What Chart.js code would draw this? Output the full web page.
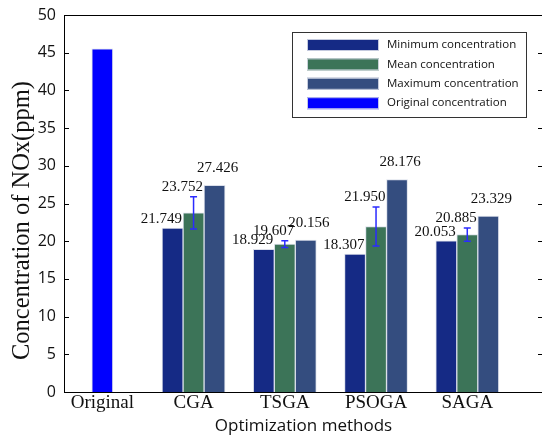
<!DOCTYPE html>
<html>
<head>
<meta charset="utf-8">
<script src="https://cdn.jsdelivr.net/npm/chart.js@4/dist/chart.umd.min.js"></script>
<style>
  html, body { margin: 0; padding: 0; background: #fff; overflow: hidden; }
  #wrap { width: 542px; height: 441px; overflow: hidden; }
</style>
</head>
<body>
<div id="wrap"><canvas id="chart" width="548" height="441"></canvas></div>
<script>
const categories = ["Original", "CGA", "TSGA", "PSOGA", "SAGA"];
const minConc = [null, 21.749, 18.929, 18.307, 20.053];
const meanConc = [null, 23.752, 19.607, 21.95, 20.885];
const maxConc = [null, 27.426, 20.156, 28.176, 23.329];
const originalConc = [45.5, null, null, null, null];
const meanError = [null, 2.15, 0.45, 2.6, 0.88];
const seriesNames = ["Minimum concentration", "Mean concentration", "Maximum concentration", "Original concentration"];
const seriesColors = ["#152a85", "#3c7458", "#344d7f", "#0000ff"];
const yTitle = "Concentration of NOx(ppm)";

const SERIF = "'Liberation Serif', 'Times New Roman', serif";
const SANS = "'Open Sans', 'Noto Sans', sans-serif";

const toPoints = (arr) => arr.map((v, i) => ({ x: i, y: v }));

// frame: top line, right axis, inward tick marks, y title
const framePlugin = {
  id: "frame",
  afterDraw(chart) {
    const { ctx, chartArea: a, scales: { y } } = chart;
    ctx.save();
    ctx.strokeStyle = "#000";
    ctx.lineWidth = 1;
    ctx.beginPath();
    ctx.moveTo(a.left, a.top + 0.5);
    ctx.lineTo(a.right, a.top + 0.5);
    ctx.moveTo(a.right - 0.5, a.top);
    ctx.lineTo(a.right - 0.5, a.bottom);
    y.ticks.forEach((t) => {
      const py = Math.round(y.getPixelForValue(t.value)) + 0.5;
      ctx.moveTo(a.left, py);
      ctx.lineTo(a.left + 5, py);
      ctx.moveTo(a.right, py);
      ctx.lineTo(a.right - 5, py);
    });
    ctx.stroke();

    // y title sits a little below the axis middle in the original
    ctx.translate(23, (a.top + a.bottom) / 2 + 17);
    ctx.rotate(-Math.PI / 2);
    ctx.fillStyle = "#111";
    ctx.font = "24.5px " + SERIF;
    ctx.textAlign = "center";
    ctx.textBaseline = "middle";
    ctx.fillText(yTitle, 0, 0);
    ctx.restore();
  },
};

// error bars on the mean series + value labels
const labelPlugin = {
  id: "labels",
  afterDatasetsDraw(chart) {
    const { ctx, scales: { y } } = chart;
    ctx.save();
    const meanMeta = chart.getDatasetMeta(1);
    ctx.strokeStyle = "#2b2bff";
    ctx.lineWidth = 1.5;
    meanConc.forEach((v, j) => {
      if (v == null) return;
      const bar = meanMeta.data[j];
      const top = y.getPixelForValue(v + meanError[j]);
      const bot = y.getPixelForValue(v - meanError[j]);
      ctx.beginPath();
      ctx.moveTo(bar.x, top);
      ctx.lineTo(bar.x, bot);
      ctx.moveTo(bar.x - 3.5, top);
      ctx.lineTo(bar.x + 3.5, top);
      ctx.moveTo(bar.x - 3.5, bot);
      ctx.lineTo(bar.x + 3.5, bot);
      ctx.stroke();
    });

    ctx.fillStyle = "#111";
    ctx.font = "15px " + SERIF;
    ctx.textBaseline = "middle";
    [minConc, meanConc, maxConc].forEach((arr, d) => {
      const meta = chart.getDatasetMeta(d);
      arr.forEach((v, j) => {
        if (v == null) return;
        const bar = meta.data[j];
        const right = bar.x + bar.width / 2 - 1;
        const text = v.toFixed(3);
        if (d === 0) {
          ctx.textAlign = "right";
          ctx.fillText(text, right, bar.y - 9);
        } else if (d === 1) {
          ctx.textAlign = "right";
          ctx.fillText(text, right, y.getPixelForValue(v + meanError[j]) - 10);
        } else {
          ctx.textAlign = "center";
          ctx.fillText(text, bar.x + 3, bar.y - 17);
        }
      });
    });
    ctx.restore();
  },
};

// boxed legend inside the plot, top right
const legendPlugin = {
  id: "boxLegend",
  afterDraw(chart) {
    const { ctx, chartArea: a } = chart;
    const right = a.right - 17;
    const left = right - 234;
    const top = a.top + 17;
    ctx.save();
    ctx.fillStyle = "#fff";
    ctx.fillRect(left, top, 234, 85);
    ctx.strokeStyle = "#333";
    ctx.lineWidth = 1;
    ctx.strokeRect(left + 0.5, top + 0.5, 234, 85);
    ctx.font = "11.5px " + SANS;
    ctx.textBaseline = "middle";
    ctx.textAlign = "left";
    chart.data.datasets.forEach((ds, k) => {
      const cy = top + 13 + k * 19.4;
      ctx.fillStyle = ds.backgroundColor;
      ctx.fillRect(left + 15, cy - 6, 72, 12);
      ctx.strokeStyle = "rgba(215,220,232,0.9)";
      ctx.strokeRect(left + 15.5, cy - 5.5, 71, 11);
      ctx.fillStyle = "#111";
      ctx.fillText(ds.label, left + 95, cy);
    });
    ctx.restore();
  },
};

const seriesData = [minConc, meanConc, maxConc, originalConc];

new Chart(document.getElementById("chart"), {
  type: "bar",
  data: {
    datasets: seriesData.map((arr, k) => ({
      label: seriesNames[k],
      data: toPoints(arr),
      backgroundColor: seriesColors[k],
      borderColor: "rgba(215,220,232,0.9)",
      borderWidth: 1,
      barThickness: 21,
      skipNull: true,
    })),
  },
  options: {
    responsive: false,
    animation: false,
    layout: { padding: { top: 15, right: 5, left: 0, bottom: 0 } },
    plugins: { legend: { display: false }, tooltip: { enabled: false } },
    scales: {
      x: {
        type: "linear",
        offset: false,
        min: -0.42,
        max: 4.83,
        grid: { display: false },
        border: { display: true, color: "#000", width: 1 },
        afterBuildTicks: (axis) => {
          axis.ticks = categories.map((c, i) => ({ value: i }));
        },
        afterFit: (axis) => { axis.height = 49; },
        ticks: {
          autoSkip: false,
          maxRotation: 0,
          padding: -6,
          color: "#111",
          font: { family: SERIF, size: 19, lineHeight: 1 },
          callback: (v) => categories[v],
        },
        title: {
          display: true,
          text: "Optimization methods",
          color: "#111",
          font: { family: SANS, size: 17, lineHeight: 1 },
          padding: { top: 0, bottom: 6 },
        },
      },
      y: {
        min: 0,
        max: 50,
        grid: { display: false },
        border: { display: true, color: "#000", width: 1 },
        afterFit: (axis) => { axis.width = 64; },
        ticks: {
          stepSize: 5,
          padding: 0,
          color: "#111",
          font: { family: SANS, size: 16 },
        },
        title: { display: false },
      },
    },
  },
  plugins: [framePlugin, labelPlugin, legendPlugin],
});
</script>
</body>
</html>
